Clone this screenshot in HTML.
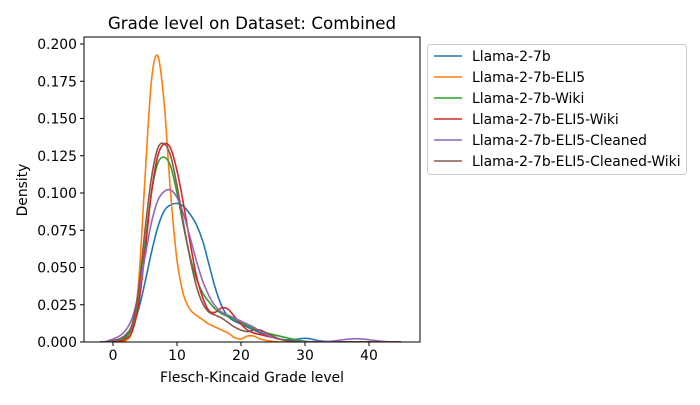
<!DOCTYPE html>
<html><head><meta charset="utf-8"><style>
body{margin:0;background:#fff;font-family:"Liberation Sans","DejaVu Sans",sans-serif}
svg text{font-family:"DejaVu Sans","Liberation Sans",sans-serif;fill:#000}
</style></head><body>
<svg id="c" width="700" height="400" xmlns="http://www.w3.org/2000/svg">
<rect width="700" height="400" fill="#fff"/>
<g id="plot"></g>
<text x="252" y="29" font-size="16.7" text-anchor="middle">Grade level on Dataset: Combined</text>
<text x="252" y="382" font-size="13.9" text-anchor="middle">Flesch-Kincaid Grade level</text>
<text transform="translate(27,190) rotate(-90)" font-size="13.9" text-anchor="middle">Density</text>
</svg>
<script>
const xs=[];for(let i=-2;i<=45;i++)xs.push(i);
const seriesNames=["Llama-2-7b","Llama-2-7b-ELI5","Llama-2-7b-Wiki","Llama-2-7b-ELI5-Wiki","Llama-2-7b-ELI5-Cleaned","Llama-2-7b-ELI5-Cleaned-Wiki"];
const colors=["#1f77b4","#ff7f0e","#2ca02c","#d62728","#9467bd","#8c564b"];
const blue=[0,0.0003,0.001,0.002,0.004,0.01,0.022,0.04,0.06,0.077,0.088,0.092,0.093,0.091,0.086,0.079,0.068,0.052,0.036,0.024,0.017,0.014,0.012,0.01,0.008,0.006,0.004,0.003,0.002,0.0015,0.0015,0.002,0.0025,0.002,0.001,0.0005,0,0,0,0,0,0,0,0,0,0,0,0];
const orange=[0,0,0,0.0005,0.001,0.008,0.04,0.11,0.175,0.192,0.16,0.1,0.055,0.032,0.022,0.018,0.015,0.012,0.01,0.008,0.006,0.003,0.002,0.004,0.004,0.002,0.001,0.0005,0,0,0,0,0,0,0,0,0,0,0,0,0,0,0,0,0,0,0,0];
const green=[0,0,0.0005,0.001,0.003,0.01,0.03,0.065,0.1,0.12,0.124,0.118,0.1,0.078,0.058,0.043,0.033,0.027,0.022,0.019,0.017,0.015,0.013,0.011,0.009,0.007,0.006,0.005,0.004,0.003,0.002,0.001,0.0005,0,0,0,0,0,0,0,0,0,0,0,0,0,0,0];
const red=[0,0,0,0.0005,0.002,0.007,0.025,0.06,0.1,0.125,0.133,0.13,0.115,0.093,0.068,0.045,0.03,0.021,0.02,0.023,0.022,0.017,0.012,0.008,0.006,0.005,0.004,0.003,0.002,0.001,0.0005,0,0,0,0,0,0,0,0,0,0,0,0,0,0,0,0,0];
const purple=[0,0.0005,0.002,0.004,0.008,0.016,0.033,0.057,0.08,0.095,0.101,0.102,0.097,0.086,0.071,0.055,0.041,0.031,0.024,0.02,0.018,0.016,0.014,0.012,0.01,0.007,0.005,0.003,0.002,0.001,0.0005,0.0003,0.0002,0.0002,0.0003,0.0004,0.0005,0.001,0.0015,0.002,0.0022,0.002,0.0015,0.001,0.0005,0.0002,0,0];
const brown=[0,0,0.001,0.002,0.005,0.012,0.035,0.075,0.11,0.13,0.133,0.125,0.105,0.08,0.057,0.038,0.026,0.02,0.018,0.016,0.013,0.01,0.008,0.007,0.008,0.008,0.006,0.004,0.002,0.001,0.0005,0,0,0,0,0,0,0,0,0,0,0,0,0,0,0,0,0];
const series=[blue,orange,green,red,purple,brown];
const xTicks=[0,10,20,30,40];
const yTicks=[0,0.025,0.05,0.075,0.1,0.125,0.15,0.175,0.2];
const yTickLabels=["0.000","0.025","0.050","0.075","0.100","0.125","0.150","0.175","0.200"];
const L=84,R=420,T=37,B=342;
const sx=v=>113+6.4*v, sy=v=>342-v*1490;
const NS="http://www.w3.org/2000/svg";
const g=document.getElementById('plot');
function mk(t,a,p){const e=document.createElementNS(NS,t);for(const k in a)e.setAttribute(k,a[k]);(p||g).appendChild(e);return e;}
const defs=mk('defs',{});const cp=mk('clipPath',{id:'cp'},defs);mk('rect',{x:L,y:T,width:R-L,height:B-T},cp);
const lines=mk('g',{'clip-path':'url(#cp)'});
series.forEach((s,si)=>{
  const pts=xs.map((x,i)=>[sx(x),sy(s[i])]);
  let d='M'+pts[0][0]+','+pts[0][1];
  for(let i=0;i<pts.length-1;i++){
    const p0=pts[Math.max(0,i-1)],p1=pts[i],p2=pts[i+1],p3=pts[Math.min(pts.length-1,i+2)];
    const c1=[p1[0]+(p2[0]-p0[0])/6,p1[1]+(p2[1]-p0[1])/6],c2=[p2[0]-(p3[0]-p1[0])/6,p2[1]-(p3[1]-p1[1])/6];
    d+=` C${c1[0].toFixed(2)},${c1[1].toFixed(2)} ${c2[0].toFixed(2)},${c2[1].toFixed(2)} ${p2[0].toFixed(2)},${p2[1].toFixed(2)}`;
  }
  const p=mk('path',{d:d,fill:'none',stroke:colors[si],'stroke-width':1.6},lines);
  
  
});
mk('rect',{x:L,y:T,width:R-L,height:B-T,fill:'none',stroke:'#000','stroke-width':1});
xTicks.forEach(v=>{
  mk('line',{x1:sx(v),x2:sx(v),y1:B,y2:B+4,stroke:'#000'});
  const t=mk('text',{x:sx(v),y:B+18,'font-size':13.9,'text-anchor':'middle'});t.textContent=v;
  
  
});
yTicks.forEach((v,i)=>{
  mk('line',{x1:L-4,x2:L,y1:sy(v),y2:sy(v),stroke:'#000'});
  const t=mk('text',{x:L-7,y:sy(v)+5,'font-size':13.9,'text-anchor':'end'});t.textContent=yTickLabels[i];
  
  
});
const lg=mk('g',{});


mk('rect',{x:427.5,y:44.5,width:259,height:130,rx:3,fill:'#fff',stroke:'#ccc'},lg);
seriesNames.forEach((n,i)=>{
  const y=56+i*21;
  mk('line',{x1:434,x2:462,y1:y,y2:y,stroke:colors[i],'stroke-width':1.6},lg);
  const t=mk('text',{x:472,y:y+5,'font-size':13.9},lg);t.textContent=n;
  
  
});
</script>
</body></html>
